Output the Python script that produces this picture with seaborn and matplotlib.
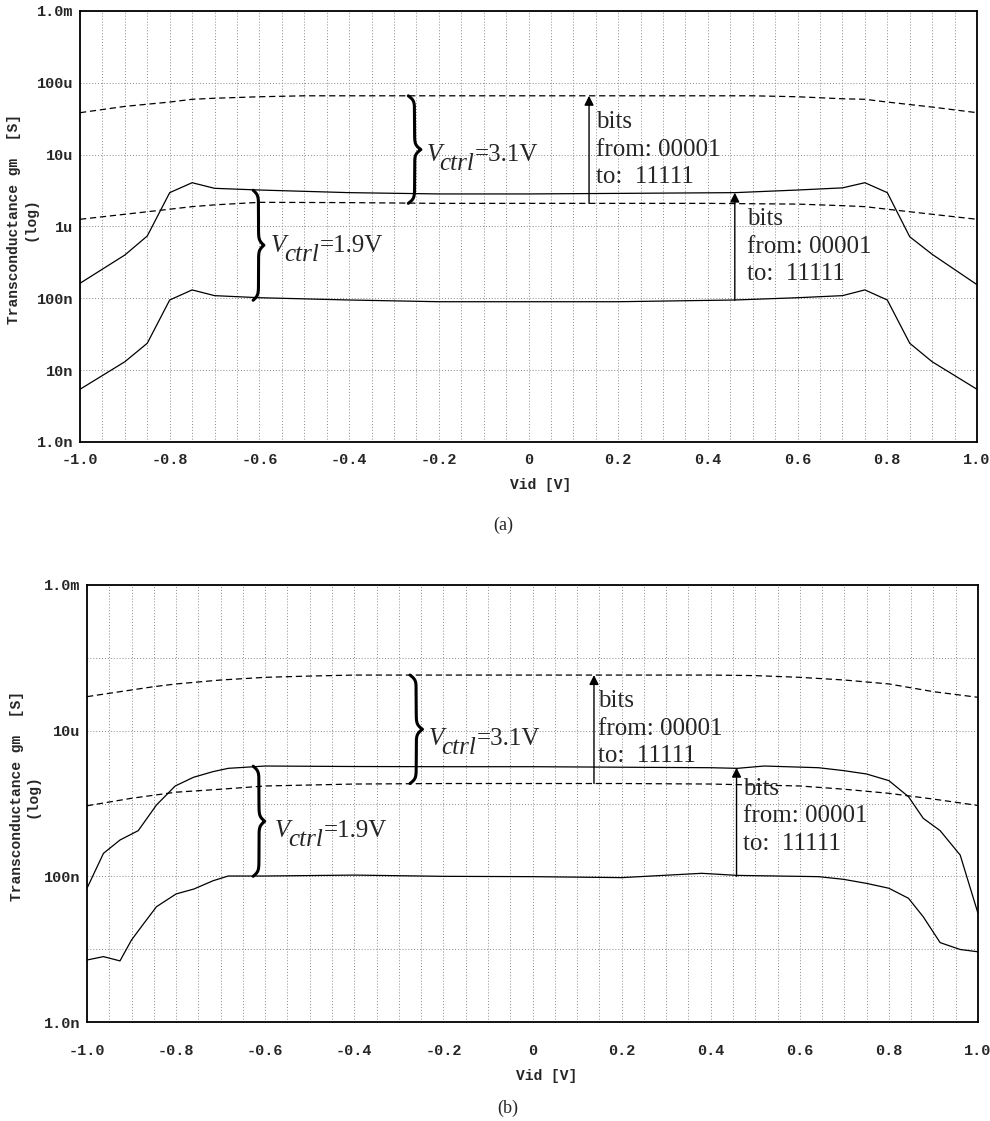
import numpy as np
import pandas as pd
import seaborn as sns
import matplotlib.pyplot as plt
from matplotlib.ticker import FixedLocator, MultipleLocator, NullLocator

sns.set_theme(style='white')
plt.rcParams['font.family'] = ['Liberation Mono', 'DejaVu Sans']

# ---------------- data (a) ----------------
# Vctrl = 3.1V, bits 11111 (dashed, top)
a_x_d_hi = [-1.0, -0.9, -0.8, -0.75, -0.7, -0.6, -0.5, -0.4, -0.2, 0.0, 0.2, 0.4, 0.5, 0.6, 0.7, 0.75, 0.8, 0.9, 1.0]
a_y_d_hi = [38.4e-6, 47e-6, 54e-6, 59e-6, 61e-6, 64e-6, 66e-6, 66e-6, 66e-6, 66e-6, 66e-6, 66e-6, 66e-6, 64e-6, 60e-6, 59e-6, 54e-6, 46e-6, 38.4e-6]
# Vctrl = 3.1V, bits 00001 (dashed, bottom)
a_x_d_lo = [-1.0, -0.9, -0.8, -0.75, -0.7, -0.6, -0.4, -0.2, 0.0, 0.2, 0.4, 0.6, 0.7, 0.75, 0.8, 0.9, 1.0]
a_y_d_lo = [1.26e-6, 1.48e-6, 1.74e-6, 1.89e-6, 2.0e-6, 2.17e-6, 2.15e-6, 2.1e-6, 2.1e-6, 2.1e-6, 2.1e-6, 2.05e-6, 1.95e-6, 1.89e-6, 1.74e-6, 1.48e-6, 1.26e-6]
# Vctrl = 1.9V, bits 11111 (solid, top)
a_x_s_hi = [-1.0, -0.9, -0.85, -0.8, -0.75, -0.7, -0.6, -0.4, -0.2, 0.0, 0.2, 0.46, 0.6, 0.7, 0.75, 0.8, 0.85, 0.9, 1.0]
a_y_s_hi = [162e-9, 401e-9, 738e-9, 2.96e-6, 4.07e-6, 3.40e-6, 3.22e-6, 2.96e-6, 2.84e-6, 2.84e-6, 2.89e-6, 2.96e-6, 3.22e-6, 3.45e-6, 4.07e-6, 2.96e-6, 0.72e-6, 0.41e-6, 0.155e-6]
# Vctrl = 1.9V, bits 00001 (solid, bottom)
a_x_s_lo = [-1.0, -0.9, -0.85, -0.8, -0.75, -0.7, -0.6, -0.4, -0.2, 0.0, 0.2, 0.46, 0.6, 0.7, 0.75, 0.8, 0.85, 0.9, 1.0]
a_y_s_lo = [5.42e-9, 13.1e-9, 23.7e-9, 94.8e-9, 131e-9, 109e-9, 102e-9, 94.8e-9, 89.7e-9, 89.7e-9, 89.7e-9, 94.8e-9, 102e-9, 109e-9, 131e-9, 94.8e-9, 23.7e-9, 13.1e-9, 5.42e-9]

# ---------------- data (b) ----------------
b_x_d_hi = [-1.0, -0.95, -0.9, -0.85, -0.8, -0.7, -0.6, -0.5, -0.4, -0.2, 0.0, 0.2, 0.4, 0.5, 0.6, 0.7, 0.8, 0.9, 1.0]
b_y_d_hi = [29.3e-6, 32.6e-6, 36.2e-6, 40.2e-6, 43.8e-6, 49.6e-6, 54e-6, 56.2e-6, 58e-6, 58e-6, 58e-6, 58e-6, 58e-6, 57e-6, 54e-6, 49.6e-6, 43.8e-6, 34.3e-6, 28.7e-6]
b_x_d_lo = [-1.0, -0.9, -0.8, -0.7, -0.6, -0.4, -0.2, 0.0, 0.2, 0.4, 0.6, 0.7, 0.8, 0.9, 1.0]
b_y_d_lo = [0.93e-6, 1.18e-6, 1.43e-6, 1.57e-6, 1.74e-6, 1.85e-6, 1.88e-6, 1.88e-6, 1.88e-6, 1.85e-6, 1.74e-6, 1.57e-6, 1.38e-6, 1.15e-6, 0.94e-6]
b_x_s_hi = [-1.0, -0.963, -0.926, -0.885, -0.844, -0.802, -0.761, -0.717, -0.683, -0.6, -0.4, -0.2, 0.0, 0.2, 0.4, 0.46, 0.52, 0.642, 0.698, 0.75, 0.8, 0.844, 0.877, 0.915, 0.96, 1.0]
b_y_s_hi = [68.6e-9, 207e-9, 315e-9, 424e-9, 955e-9, 1.74e-6, 2.29e-6, 2.74e-6, 3.04e-6, 3.27e-6, 3.22e-6, 3.2e-6, 3.2e-6, 3.15e-6, 3.1e-6, 3.04e-6, 3.27e-6, 3.1e-6, 2.83e-6, 2.54e-6, 2.06e-6, 1.24e-6, 627e-9, 424e-9, 196e-9, 31e-9]
b_x_s_lo = [-1.0, -0.963, -0.926, -0.9, -0.875, -0.844, -0.8, -0.76, -0.717, -0.683, -0.6, -0.4, -0.2, 0.0, 0.2, 0.38, 0.46, 0.642, 0.698, 0.75, 0.8, 0.844, 0.877, 0.915, 0.96, 1.0]
b_y_s_lo = [7.1e-9, 7.9e-9, 6.9e-9, 13.4e-9, 21.5e-9, 38.3e-9, 57.3e-9, 67e-9, 87e-9, 101e-9, 101e-9, 104e-9, 100e-9, 99e-9, 96e-9, 110e-9, 103e-9, 99e-9, 91e-9, 80e-9, 68.6e-9, 49.9e-9, 27.9e-9, 12.3e-9, 9.9e-9, 9.2e-9]

y_ticks = [1e-9, 1e-8, 1e-7, 1e-6, 1e-5, 1e-4, 1e-3]
a_ytick_labels = ['1.0n', '10n', '100n', '1u', '10u', '100u', '1.0m']
b_ytick_labels = ['1.0n', '', '100n', '', '10u', '', '1.0m']
x_ticks = [-1.0, -0.8, -0.6, -0.4, -0.2, 0.0, 0.2, 0.4, 0.6, 0.8, 1.0]
x_tick_labels = ['-1.0', '-0.8', '-0.6', '-0.4', '-0.2', '0', '0.2', '0.4', '0.6', '0.8', '1.0']

bits_text = 'bits\nfrom: 00001\nto:  11111'
serif = 'Liberation Serif'

fig = plt.figure(figsize=(9.9, 11.21), dpi=100)
ax_a = fig.add_axes([80 / 990, 1 - 442 / 1121, 897 / 990, 431 / 1121])
ax_b = fig.add_axes([87 / 990, 1 - 1022 / 1121, 891 / 990, 437 / 1121])


def brace(ax, x0, y_lo, y_hi, width):
    # curly brace pointing right, drawn in axes fractions
    fx = (x0 + 1) / 2
    f_lo = (np.log10(y_lo) + 9) / 6
    f_hi = (np.log10(y_hi) + 9) / 6
    t = np.linspace(0, 0.5, 120)
    beta = 45
    half = 1 / (1 + np.exp(-beta * (t - t[0]))) + 1 / (1 + np.exp(-beta * (t - t[-1])))
    prof = np.concatenate([half, half[-2::-1]]) - 0.5
    ys = np.linspace(f_lo, f_hi, len(prof))
    ax.plot(fx + width * prof, ys, color='black', lw=2.2, transform=ax.transAxes, clip_on=False)


def vctrl(ax, x, y, value):
    # V (italic) + ctrl (italic, lowered) + =value
    px = 1 / 1.389
    ax.annotate('V', (x, y), xytext=(0, 0), textcoords='offset points', fontsize=18,
                family=serif, style='italic', va='baseline')
    ax.annotate('ctrl', (x, y), xytext=(13 * px, -9 * px), textcoords='offset points', fontsize=18,
                family=serif, style='italic', va='baseline')
    ax.annotate('=' + value, (x, y), xytext=(49 * px, 0), textcoords='offset points', fontsize=18,
                family=serif, va='baseline')


def draw_panel(ax, curves, ytick_labels, xpad):
    for xs, ys, dashed in curves:
        sns.lineplot(x=xs, y=ys, ax=ax, color='black', lw=0.9, estimator=None,
                     linestyle=(0, (5, 3)) if dashed else '-')
    ax.set_yscale('log')
    ax.set_xlim(-1, 1)
    ax.set_ylim(1e-9, 1e-3)
    ax.yaxis.set_major_locator(FixedLocator(y_ticks))
    ax.yaxis.set_minor_locator(NullLocator())
    ax.set_yticklabels(ytick_labels)
    ax.set_xticks(x_ticks)
    ax.set_xticklabels(x_tick_labels)
    ax.xaxis.set_minor_locator(MultipleLocator(0.05))
    ax.grid(which='both', axis='x', color='#8a8a8a', linestyle=(0, (1, 2)), lw=0.7)
    ax.grid(which='major', axis='y', color='#8a8a8a', linestyle=(0, (1, 2)), lw=0.7)
    ax.tick_params(axis='x', which='major', direction='inout', length=6, width=1, color='black',
                   labelsize=11, pad=xpad)
    ax.tick_params(axis='x', which='minor', length=0)
    ax.tick_params(axis='y', which='major', direction='out', length=4, width=1, color='black',
                   labelsize=11, pad=1)
    for lab in ax.get_xticklabels() + ax.get_yticklabels():
        lab.set_fontweight('bold')
    for s in ax.spines.values():
        s.set_color('black')
        s.set_linewidth(1.3)
    ax.set_xlabel('')
    ax.set_ylabel('')


draw_panel(ax_a, [(a_x_d_hi, a_y_d_hi, True), (a_x_d_lo, a_y_d_lo, True),
                  (a_x_s_hi, a_y_s_hi, False), (a_x_s_lo, a_y_s_lo, False)], a_ytick_labels, 5)
draw_panel(ax_b, [(b_x_d_hi, b_y_d_hi, True), (b_x_d_lo, b_y_d_lo, True),
                  (b_x_s_hi, b_y_s_hi, False), (b_x_s_lo, b_y_s_lo, False)], b_ytick_labels, 13)

arrow_kw = dict(arrowstyle='-|>', color='black', lw=1.0, mutation_scale=14, shrinkA=0, shrinkB=0)

# panel (a) annotations
brace(ax_a, -0.268, 2.1e-6, 66e-6, 0.014)
brace(ax_a, -0.614, 94e-9, 3.2e-6, 0.012)
vctrl(ax_a, -0.228, 8.2e-6, '3.1V')
vctrl(ax_a, -0.574, 4.4e-7, '1.9V')
ax_a.annotate('', xy=(0.135, 66e-6), xytext=(0.135, 2.1e-6), arrowprops=arrow_kw)
ax_a.annotate('', xy=(0.46, 2.96e-6), xytext=(0.46, 94e-9), arrowprops=arrow_kw)
ax_a.text(0.150, 4.0e-5, bits_text, fontsize=18, family=serif, va='top', linespacing=1.32)
ax_a.text(0.487, 1.8e-6, bits_text, fontsize=18, family=serif, va='top', linespacing=1.32)
ax_a.text(-0.064, 0.517, 'Transconductance gm  [S]\n(log)', transform=ax_a.transAxes, rotation=90,
          ha='center', va='center', multialignment='center', fontsize=10.5, fontweight='bold')
fig.text(541 / 990, 1 - 485 / 1121, 'Vid [V]', ha='center', va='center', fontsize=10.5, fontweight='bold')
fig.text(503 / 990, 1 - 525 / 1121, '(a)', ha='center', va='center', fontsize=13, family=serif)

# panel (b) annotations
brace(ax_b, -0.275, 1.88e-6, 58e-6, 0.014)
brace(ax_b, -0.627, 100e-9, 3.25e-6, 0.013)
vctrl(ax_b, -0.234, 6.35e-6, '3.1V')
vctrl(ax_b, -0.578, 3.47e-7, '1.9V')
ax_b.annotate('', xy=(0.138, 58e-6), xytext=(0.138, 1.88e-6), arrowprops=arrow_kw)
ax_b.annotate('', xy=(0.458, 3.1e-6), xytext=(0.458, 100e-9), arrowprops=arrow_kw)
ax_b.text(0.147, 3.6e-5, bits_text, fontsize=18, family=serif, va='top', linespacing=1.32)
ax_b.text(0.473, 2.24e-6, bits_text, fontsize=18, family=serif, va='top', linespacing=1.32)
ax_b.text(-0.070, 0.517, 'Transconductance gm  [S]\n(log)', transform=ax_b.transAxes, rotation=90,
          ha='center', va='center', multialignment='center', fontsize=10.5, fontweight='bold')
fig.text(547 / 990, 1 - 1076 / 1121, 'Vid [V]', ha='center', va='center', fontsize=10.5, fontweight='bold')
fig.text(508 / 990, 1 - 1108 / 1121, '(b)', ha='center', va='center', fontsize=13, family=serif)

fig.savefig('out.png', dpi=100, facecolor='white')
